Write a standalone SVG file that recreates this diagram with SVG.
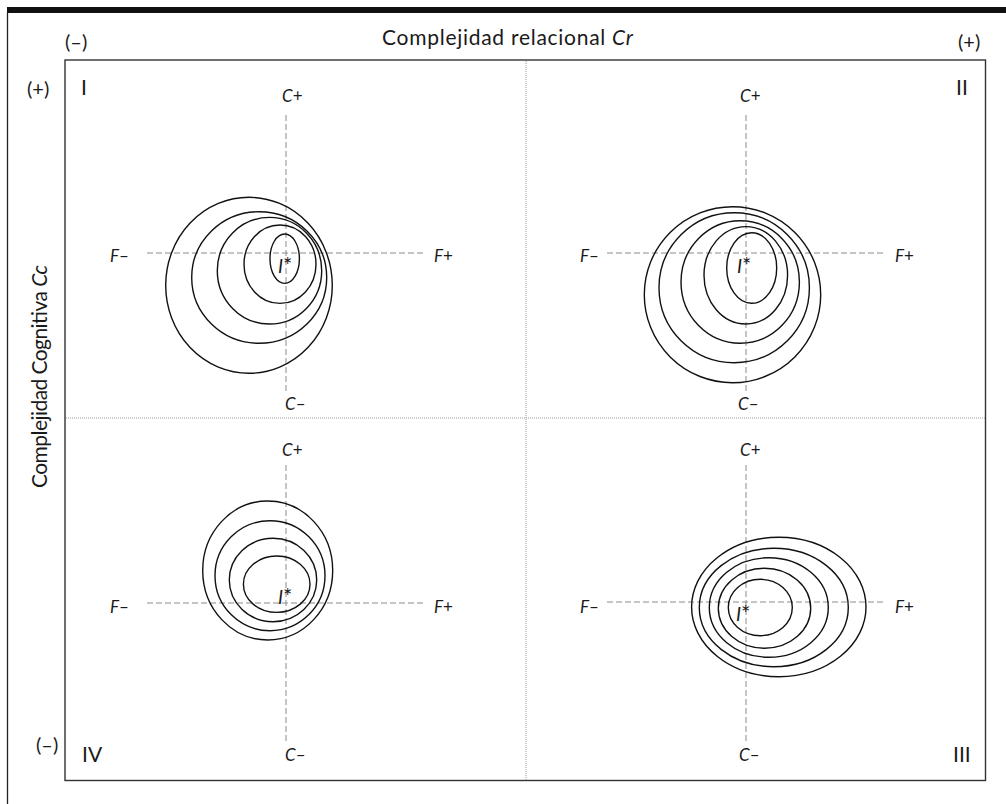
<svg xmlns="http://www.w3.org/2000/svg" width="1006" height="804" viewBox="0 0 1006 804">
<style>
text{font-family:Lato,"Open Sans","Liberation Sans",sans-serif;fill:#1a1a1a}
.t{font-size:21px}
.p{font-size:20px}
.ax{font-size:17px}
.ax tspan.i,.it{font-style:italic}
.st{font-size:19px}
.st tspan.a{font-size:22px}
.ell{fill:none;stroke:#111;stroke-width:1.4}
.dash{stroke:#8a8a8a;stroke-width:1;stroke-dasharray:6 3;fill:none}
.dot{stroke:#999;stroke-width:1;stroke-dasharray:1 1;fill:none}
</style>
<rect x="0" y="0" width="1006" height="804" fill="#fff"/>
<g id="frame">
<rect x="7" y="7" width="999" height="6" fill="#111"/>
<line x1="7.5" y1="13" x2="7.5" y2="804" stroke="#222" stroke-width="1.3"/>
<rect x="65" y="60" width="920.5" height="720.5" fill="none" stroke="#333" stroke-width="1.4"/>
<line class="dot" x1="526" y1="61" x2="526" y2="780"/>
<line class="dot" x1="66" y1="418" x2="985" y2="418"/>
</g>
<g id="titles">
<text class="p" x="65" y="49">(–)</text>
<text class="p" x="958" y="49">(+)</text>
<text class="t" x="382" y="45" textLength="251" lengthAdjust="spacing">Complejidad relacional  <tspan font-style="italic">Cr</tspan></text>
<text class="p" x="27" y="96">(+)</text>
<text class="p" x="36" y="752">(–)</text>
<text class="t" transform="translate(47,488) rotate(-90)" textLength="223" lengthAdjust="spacing">Complejidad Cognitiva <tspan font-style="italic">Cc</tspan></text>
<text class="t" x="81" y="95">I</text>
<text class="t" x="956" y="95">II</text>
<text class="t" x="953" y="762">III</text>
<text class="t" x="82" y="762">IV</text>
</g>
<g id="connectors">
<line class="dash" x1="286" y1="115" x2="286" y2="392"/>
<line class="dash" x1="147" y1="253" x2="424" y2="253"/>
<line class="dash" x1="746" y1="115" x2="746" y2="392"/>
<line class="dash" x1="607" y1="253" x2="885" y2="253"/>
<line class="dash" x1="286" y1="465" x2="286" y2="742"/>
<line class="dash" x1="147" y1="603" x2="424" y2="603"/>
<line class="dash" x1="746" y1="465" x2="746" y2="742"/>
<line class="dash" x1="607" y1="602" x2="885" y2="602"/>
</g>
<g id="quadrant-I">
<ellipse class="ell" cx="249" cy="285.3" rx="83.3" ry="88"/>
<ellipse class="ell" cx="259.2" cy="277.5" rx="67.5" ry="65.8"/>
<ellipse class="ell" cx="269.5" cy="270.7" rx="52.2" ry="53.3"/>
<ellipse class="ell" cx="280" cy="264.2" rx="36" ry="39.2"/>
<ellipse class="ell" cx="284.7" cy="258.7" rx="14.7" ry="24.7"/>
<text class="ax" x="282" y="102"><tspan class="i">C</tspan>+</text>
<text class="ax" x="285" y="410"><tspan class="i">C</tspan>–</text>
<text class="ax" x="110" y="262"><tspan class="i">F</tspan>–</text>
<text class="ax" x="434" y="262"><tspan class="i">F</tspan>+</text>
<text class="st" x="278" y="273"><tspan class="it">I</tspan><tspan class="a">*</tspan></text>
</g>
<g id="quadrant-II">
<ellipse class="ell" cx="732.5" cy="294.7" rx="88.2" ry="88"/>
<ellipse class="ell" cx="734.2" cy="287.7" rx="75.2" ry="75"/>
<ellipse class="ell" cx="740.2" cy="282" rx="59.2" ry="61.3"/>
<ellipse class="ell" cx="745.8" cy="275.3" rx="41.8" ry="48.7"/>
<ellipse class="ell" cx="751.7" cy="268" rx="25" ry="35.3"/>
<text class="ax" x="740" y="102"><tspan class="i">C</tspan>+</text>
<text class="ax" x="738" y="410"><tspan class="i">C</tspan>–</text>
<text class="ax" x="580" y="262"><tspan class="i">F</tspan>–</text>
<text class="ax" x="895" y="262"><tspan class="i">F</tspan>+</text>
<text class="st" x="737" y="273"><tspan class="it">I</tspan><tspan class="a">*</tspan></text>
</g>
<g id="quadrant-IV">
<ellipse class="ell" cx="267.7" cy="570.5" rx="65" ry="69.5"/>
<ellipse class="ell" cx="270" cy="575.7" rx="55" ry="55"/>
<ellipse class="ell" cx="273" cy="580" rx="43.7" ry="41.7"/>
<ellipse class="ell" cx="276.7" cy="584.2" rx="33.3" ry="28.2"/>
<text class="ax" x="282" y="456"><tspan class="i">C</tspan>+</text>
<text class="ax" x="285" y="761"><tspan class="i">C</tspan>–</text>
<text class="ax" x="110" y="613"><tspan class="i">F</tspan>–</text>
<text class="ax" x="434" y="613"><tspan class="i">F</tspan>+</text>
<text class="st" x="278" y="604"><tspan class="it">I</tspan><tspan class="a">*</tspan></text>
</g>
<g id="quadrant-III">
<ellipse class="ell" cx="778.8" cy="607" rx="87.2" ry="69.7"/>
<ellipse class="ell" cx="773.8" cy="607.5" rx="74.5" ry="59.2"/>
<ellipse class="ell" cx="768.8" cy="607.5" rx="59.5" ry="49.8"/>
<ellipse class="ell" cx="764.5" cy="608.3" rx="46.2" ry="40"/>
<ellipse class="ell" cx="760.3" cy="607.5" rx="32" ry="28.2"/>
<text class="ax" x="740" y="456"><tspan class="i">C</tspan>+</text>
<text class="ax" x="739" y="761"><tspan class="i">C</tspan>–</text>
<text class="ax" x="580" y="613"><tspan class="i">F</tspan>–</text>
<text class="ax" x="895" y="613"><tspan class="i">F</tspan>+</text>
<text class="st" x="736" y="621"><tspan class="it">I</tspan><tspan class="a">*</tspan></text>
</g>
</svg>
